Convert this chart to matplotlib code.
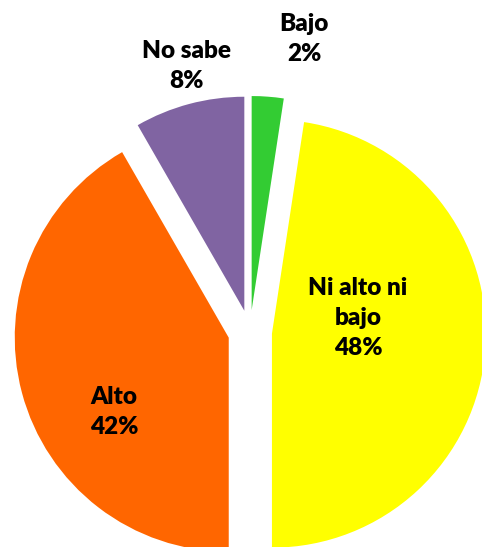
import numpy as np
import matplotlib
matplotlib.use('Agg')
import matplotlib.pyplot as plt

# slice data, clockwise from 12 o'clock
categories = ['Bajo', 'Ni alto ni\nbajo', 'Alto', 'No sabe']
shares = [2.4, 47.6, 41.7, 8.3]
pct_labels = ['2%', '48%', '42%', '8%']
colors = ['#33CC33', '#FFFF00', '#FF6600', '#8064A2']

# where the text sits (pixel coords, y measured from the bottom)
label_xy = [(304, 508), (358, 229), (114, 135), (187, 481)]

W, H = 482, 547
fig = plt.figure(figsize=(W / 100., H / 100.), dpi=100)
ax = fig.add_axes([0, 0, 1, 1])

ax.pie(shares, colors=colors, startangle=90, counterclock=False,
       radius=214, center=(250, 215), explode=[22] * len(shares),
       wedgeprops=dict(linewidth=0))

for cat, pct, (x, y) in zip(categories, pct_labels, label_xy):
    ax.text(x, y, cat + '\n' + pct, ha='center', va='center',
            fontsize=17.5, fontweight='heavy', family='Lato',
            linespacing=1.42, color='black')

ax.set_xlim(0, W)
ax.set_ylim(0, H)
ax.set_aspect('equal')
ax.axis('off')

fig.savefig('out.png', dpi=100)
plt.close(fig)
